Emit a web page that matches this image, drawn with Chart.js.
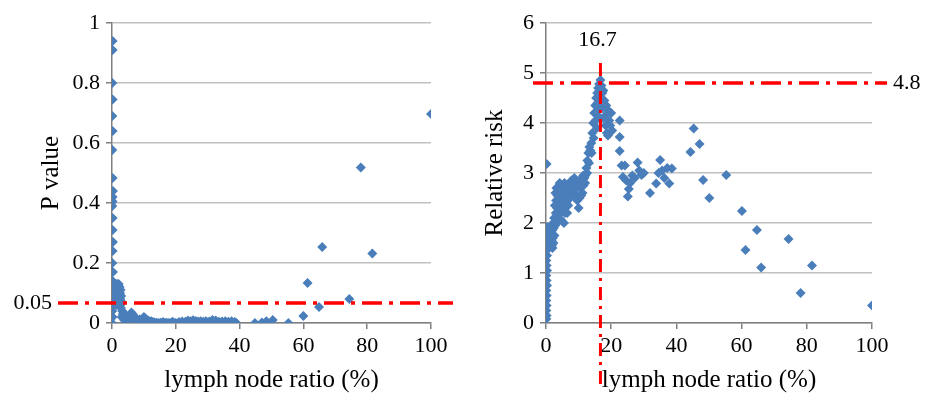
<!DOCTYPE html>
<html>
<head>
<meta charset="utf-8">
<script src="https://cdn.jsdelivr.net/npm/chart.js@4"></script>
<style>
    body { margin: 0; background: #fff; }
    .panel { position: absolute; top: 0; width: 467px; height: 395px; }
</style>
</head>
<body>
<div class="panel" style="left:0"><canvas id="chart-p"></canvas></div>
<div class="panel" style="left:467px"><canvas id="chart-rr"></canvas></div>
<script>
// Left panel: P value vs lymph node ratio
const pX = [0.2, 0.2, 0.1, 0.2, 0.1, 0.2, 0.1, 0.2, 0.3, 0.2, 0.2, 0.1, 0.2, 0.2, 0.3, 0.2, 0.1, 0.3, 0.2, 0.4, 0.2, 0.3, 0.2, 0.1, 0.2, 0,
    0.6, 0.9, 1.2, 1.5, 1.8, 2.1, 2.4, 2.7, 0.8, 1.1, 1.4, 1.7, 2.0, 2.3, 2.6, 2.9, 3.1, 1.0, 1.3, 2.2, 2.8, 3.2, 3.4, 3.6, 3.0, 3.8,
    4.2, 4.6, 5.0, 5.4, 5.8, 6.1, 6.4, 6.8, 7.1, 7.5, 7.9, 8.3, 8.7, 9.1, 9.6, 10.0, 10.4, 10.8, 11.3, 11.8, 12.3, 12.8, 13.4, 14.0,
    14.6, 15.2, 15.8, 16.4, 17.0, 17.6, 18.2, 18.8, 19.4, 20.0, 21.0, 22.0, 23.0, 23.8, 24.6, 25.4, 26.2, 27.0, 27.8, 28.6, 29.4,
    30.5, 31.5, 32.5, 33.5, 34.5, 35.5, 36.5, 37.5, 38.5, 39.0,
    0.5, 1.6, 2.5, 1.9, 2.6, 4.0, 4.4, 5.2, 6.6, 9.3, 16.0, 19.0, 24.0, 30.0, 36.0,
    44.8, 47.0, 48.4, 50.4, 55.3, 60.0, 61.3, 64.9, 65.9, 74.4, 78.0, 81.6, 100];
const pY = [0.94, 0.91, 0.80, 0.745, 0.69, 0.64, 0.577, 0.483, 0.44, 0.42, 0.405, 0.39, 0.35, 0.31, 0.27, 0.24, 0.20, 0.17, 0.14, 0.12, 0.10, 0.08, 0.06, 0.04, 0.02, 0,
    0.13, 0.12, 0.13, 0.11, 0.12, 0.13, 0.12, 0.11, 0.10, 0.09, 0.10, 0.08, 0.09, 0.10, 0.08, 0.09, 0.07, 0.07, 0.06, 0.06, 0.05, 0.04, 0.03, 0.02, 0.02, 0.01,
    0.015, 0.008, 0.012, 0.02, 0.03, 0.035, 0.03, 0.025, 0.018, 0.012, 0.01, 0.006, 0.012, 0.008, 0.014, 0.02, 0.016, 0.01, 0.008, 0.005, 0.006, 0.003, 0.002, 0.001,
    0, 0.001, 0, 0, 0.001, 0, 0, 0.001, 0, 0, 0.003, 0.005, 0.004, 0.008, 0.006, 0.009, 0.007, 0.005, 0.006, 0.004, 0.006,
    0.005, 0.01, 0.008, 0.004, 0.005, 0.006, 0.004, 0.006, 0.003, 0,
    0.11, 0.13, 0.10, 0.07, 0.06, 0.03, 0.005, 0.005, 0.02, 0.003, 0.003, 0.004, 0.002, 0.002, 0.001,
    0, 0.002, 0.006, 0.01, 0, 0.023, 0.133, 0.053, 0.253, 0.08, 0.518, 0.232, 0.697];

// Right panel: relative risk vs lymph node ratio
const rrX = [0.1, 0.2, 0.1, 0.2, 0.1, 0.2, 0.1, 0.3, 0.2, 0.1, 0.3, 0.2, 0.1, 0.3, 0.2, 0.4, 0.3, 0.3, 0.2,
    0.6, 0.9, 1.2, 1.0, 0.8, 1.4, 1.7, 2.0, 2.3, 2.6, 1.9, 2.2, 2.5, 2.8, 3.0, 2.7, 3.1, 2.9, 3.2, 3.5, 3.8, 3.4, 3.7, 4.0, 4.3,
    4.6, 4.2, 4.9, 5.2, 5.5, 5.8, 5.4, 5.7, 6.0, 6.3, 6.6, 6.9, 7.2, 7.5, 7.8, 8.1, 8.4, 8.7, 9.0, 9.3, 9.6, 10.0, 10.3, 10.6,
    10.9, 11.2, 11.5, 11.8, 12.1, 12.4, 12.7, 13.0, 13.3, 13.6, 13.9, 14.2, 14.5, 14.8, 15.1, 15.4, 15.7, 16.0, 16.3, 16.7, 17.0,
    16.5, 16.2, 15.9, 15.6, 17.3, 17.6, 17.9, 18.2, 18.5, 18.8, 19.1, 19.4, 19.7, 20.0, 18.3, 18.7, 19.0, 20.3, 17.5,
    1.5, 1.8, 2.1, 2.4, 3.3, 3.6, 4.1, 4.5, 4.8, 5.1, 5.6, 6.2, 6.5, 6.8, 7.4, 8.0, 8.8, 9.5, 10.2, 10.8, 11.4, 12.0, 12.6, 13.2,
    14.0, 14.6, 15.2, 15.8, 16.4, 17.2,
    22.6, 22.6, 22.6, 23.2, 24.2, 23.6, 24.6, 25.1, 25.4, 25.8, 26.5, 27.2, 28.1, 28.6, 29.3, 30.0, 31.9, 33.8, 34.5, 35.0, 35.6,
    36.3, 37.2, 37.8, 38.6, 44.3, 45.3, 47.1, 48.2, 50.1, 55.3, 60.1, 61.2, 64.7, 66.0, 74.4, 78.1, 81.6, 100];
const rrY = [0.08, 0.15, 0.25, 0.35, 0.45, 0.55, 0.65, 0.75, 0.85, 0.95, 1.05, 1.15, 1.25, 1.35, 1.45, 1.55, 1.65, 1.92, 3.18,
    1.6, 1.7, 1.93, 1.8, 1.5, 1.55, 1.65, 1.5, 1.6, 1.75, 1.85, 2.0, 2.1, 1.95, 2.2, 2.35, 2.45, 2.6, 2.7, 2.55, 2.72, 2.3, 2.15, 2.4, 2.6,
    2.75, 2.8, 2.5, 2.3, 2.0, 2.2, 2.65, 2.8, 2.6, 2.4, 2.5, 2.7, 2.55, 2.75, 2.85, 2.6, 2.7, 2.9, 2.8, 2.55, 2.45, 2.3, 2.5, 2.7,
    2.85, 2.6, 2.75, 2.9, 2.95, 3.1, 3.25, 3.4, 3.52, 3.45, 3.6, 3.8, 4.0, 4.2, 4.35, 4.5, 4.6, 4.7, 4.78, 4.86, 4.75,
    4.5, 4.3, 4.15, 3.9, 4.6, 4.65, 4.45, 4.3, 4.35, 4.2, 4.25, 4.05, 3.95, 4.2, 3.95, 3.8, 3.75, 3.85, 4.1,
    1.75, 1.55, 1.7, 1.9, 2.0, 2.4, 2.65, 2.2, 2.05, 2.7, 2.45, 2.75, 2.2, 2.35, 2.5, 2.8, 2.65, 2.75, 2.85, 2.55, 2.95, 2.8, 3.0, 3.2,
    3.4, 3.7, 4.05, 4.4, 4.65, 4.3,
    4.05, 3.72, 3.44, 3.15, 3.15, 2.92, 2.85, 2.53, 2.68, 2.8, 2.95, 2.9, 3.21, 3.05, 2.96, 3.0, 2.6, 2.79, 3.0, 3.26, 3.05,
    2.9, 3.1, 2.79, 3.09, 3.42, 3.89, 3.58, 2.86, 2.5, 2.96, 2.24, 1.46, 1.86, 1.11, 1.68, 0.6, 1.15, 0.35];

const xTicks = [0, 20, 40, 60, 80, 100];
const pTicks = [0, 0.2, 0.4, 0.6, 0.8, 1];
const rrTicks = [0, 1, 2, 3, 4, 5, 6];

// reference markers (line value as drawn, text as printed)
const pCutValue = 0.067;
const pCutLabel = '0.05';
const rrPeakX = 16.7;
const rrPeakY = 4.8;

const SERIF = "'Liberation Serif', 'Times New Roman', serif";
const BLUE = '#4A7EBB';
const AXIS = '#7f7f7f';
const GRID = '#c0c0c0';

function toPoints(xs, ys) {
    return xs.map((x, i) => ({ x: x, y: ys[i] }));
}

function buildOptions(yTicks, yMax, yTitle, yWidth, yTitlePad, padRight) {
    return {
        responsive: true,
        maintainAspectRatio: false,
        animation: false,
        layout: { padding: { top: 23, right: padRight, bottom: 0, left: 0 } },
        plugins: { legend: { display: false }, tooltip: { enabled: false } },
        scales: {
            x: {
                type: 'linear',
                min: 0,
                max: 100,
                afterBuildTicks: s => { s.ticks = xTicks.map(v => ({ value: v })); },
                afterFit: s => { s.height = 72; },
                grid: { drawOnChartArea: false, tickLength: 6, tickColor: AXIS, lineWidth: 1.5 },
                border: { color: AXIS, width: 1.5 },
                ticks: { color: '#000', font: { family: SERIF, size: 22 }, padding: 4, maxRotation: 0,
                         callback: v => String(v) },
                title: { display: true, text: 'lymph node ratio (%)', color: '#000',
                         font: { family: SERIF, size: 25 }, padding: { top: 0, bottom: 0 } }
            },
            y: {
                min: 0,
                max: yMax,
                afterBuildTicks: s => { s.ticks = yTicks.map(v => ({ value: v })); },
                afterFit: s => { s.width = yWidth; },
                grid: { color: GRID, lineWidth: 1.5, tickLength: 6, tickColor: AXIS },
                border: { color: AXIS, width: 1.5 },
                ticks: { color: '#000', font: { family: SERIF, size: 22 }, padding: 6,
                         callback: v => String(v) },
                title: { display: true, text: yTitle, color: '#000',
                         font: { family: SERIF, size: 25 }, padding: { top: yTitlePad, bottom: 0 } }
            }
        }
    };
}

function dashDot(ctx, x1, y1, x2, y2, width, pattern) {
    ctx.save();
    ctx.strokeStyle = '#ff0000';
    ctx.lineWidth = width;
    ctx.setLineDash(pattern);
    ctx.beginPath();
    ctx.moveTo(x1, y1);
    ctx.lineTo(x2, y2);
    ctx.stroke();
    ctx.restore();
}

const pMarks = {
    id: 'pMarks',
    afterDatasetsDraw(chart) {
        const { ctx, chartArea: a, scales: { y } } = chart;
        const yy = y.getPixelForValue(pCutValue);
        dashDot(ctx, a.left - 54, yy, a.right + 22, yy, 3.5, [20, 7, 4, 7]);
        ctx.save();
        ctx.fillStyle = '#000';
        ctx.font = '22px ' + SERIF;
        ctx.textAlign = 'right';
        ctx.textBaseline = 'middle';
        ctx.fillText(pCutLabel, a.left - 60, yy);
        ctx.restore();
    }
};

const rrMarks = {
    id: 'rrMarks',
    afterDatasetsDraw(chart) {
        const { ctx, chartArea: a, scales: { x, y } } = chart;
        const yy = y.getPixelForValue(rrPeakY);
        const xx = x.getPixelForValue(rrPeakX);
        dashDot(ctx, a.left - 13, yy, a.right + 15, yy, 3.5, [20, 7, 4, 7]);
        dashDot(ctx, xx, a.top + 40, xx, a.bottom + 65, 3, [13, 6, 3, 6]);
        ctx.save();
        ctx.fillStyle = '#000';
        ctx.font = '22px ' + SERIF;
        ctx.textBaseline = 'middle';
        ctx.textAlign = 'left';
        ctx.fillText(String(rrPeakY), a.right + 21, yy);
        ctx.textAlign = 'center';
        ctx.fillText(String(rrPeakX), xx - 3, a.top + 17);
        ctx.restore();
    }
};

function makeChart(id, xs, ys, opts, plugin) {
    new Chart(document.getElementById(id), {
        type: 'scatter',
        data: {
            datasets: [{
                data: toPoints(xs, ys),
                pointStyle: 'rectRot',
                pointRadius: 5,
                backgroundColor: BLUE,
                borderColor: BLUE,
                borderWidth: 0
            }]
        },
        options: opts,
        plugins: [plugin]
    });
}

makeChart('chart-p', pX, pY, buildOptions(pTicks, 1, 'P value', 112, 36, 36), pMarks);
makeChart('chart-rr', rrX, rrY, buildOptions(rrTicks, 6, 'Relative risk', 79, 13, 62), rrMarks);
</script>
</body>
</html>
